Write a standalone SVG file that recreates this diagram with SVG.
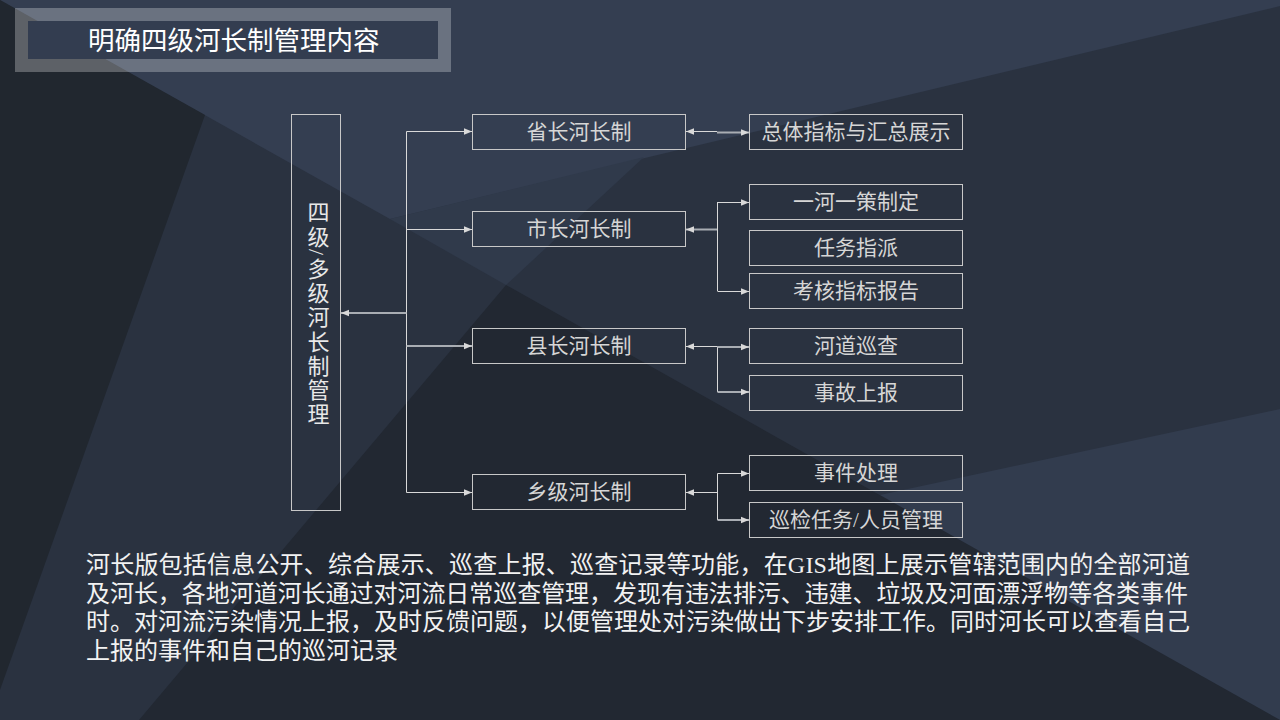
<svg xmlns="http://www.w3.org/2000/svg" width="1280" height="720" viewBox="0 0 1280 720">
  <defs>
    <marker id="ah" viewBox="0 0 10 10" refX="10" refY="5" markerWidth="8" markerHeight="8" markerUnits="userSpaceOnUse" orient="auto-start-reverse">
      <path d="M0,1 L10,5 L0,9 z" fill="#d9d9d9"/>
    </marker>
    <style>
      .box { fill: none; stroke: #c8c8c8; stroke-width: 1; }
      .lbl { font-family: "Liberation Serif", "Noto Sans CJK SC", serif; font-size: 21px; fill: #d6d6d6; text-anchor: middle; }
      .con { fill: none; stroke: #d9d9d9; stroke-width: 1; }
      .con2 { fill: none; stroke: #a9adb3; stroke-width: 2; }
      .para { font-family: "Liberation Serif", "Noto Sans CJK SC", serif; font-size: 24px; fill: #f2f2f2; }
    </style>
  </defs>

  <g id="background">
    <rect x="0" y="0" width="1280" height="720" fill="#2a3240"/>
    <polygon points="0,0 1280,0 1280,6 390,219" fill="#343e51"/>
    <polygon points="390,219 644,157 506,285" fill="#303a4b"/>
    <polygon points="880,495 1280,409 1280,720" fill="#323c4e"/>
    <polygon points="506,285 1280,720 139,720" fill="#222832"/>
    <polygon points="0,0 205,115 0,690" fill="#21272f"/>
  </g>

  <g id="title">
    <rect x="28" y="21" width="410" height="38" fill="#333d50"/>
    <rect x="21.5" y="14.5" width="423" height="51" fill="none" stroke="#ffffff" stroke-opacity="0.27" stroke-width="13"/>
    <text x="88" y="50" font-family="Liberation Serif, 'Noto Sans CJK SC', serif" font-size="26.5" fill="#ffffff">明确四级河长制管理内容</text>
  </g>

  <g id="connectors">
    <path class="con" d="M406.5,131.5 V492.5"/>
    <path class="con" d="M406.5,131.5 H472" marker-end="url(#ah)"/>
    <path class="con" d="M406.5,229.5 H472" marker-end="url(#ah)"/>
    <path class="con2" d="M406.5,346 H472" marker-end="url(#ah)"/>
    <path class="con" d="M406.5,492.5 H472" marker-end="url(#ah)"/>
    <path class="con2" d="M406.5,313 H341" marker-end="url(#ah)"/>

    <path class="con" d="M717,131.5 H686" marker-end="url(#ah)"/>
    <path class="con2" d="M717,132.5 H749" marker-end="url(#ah)"/>

    <path class="con2" d="M717.5,229.5 H686" marker-end="url(#ah)"/>
    <path class="con" d="M717.5,202 V291"/>
    <path class="con" d="M717.5,202.5 H749" marker-end="url(#ah)"/>
    <path class="con" d="M717.5,291.5 H749" marker-end="url(#ah)"/>

    <path class="con" d="M717.5,346.5 H686" marker-end="url(#ah)"/>
    <path class="con" d="M717.5,346.5 V392"/>
    <path class="con2" d="M717.5,347 H749" marker-end="url(#ah)"/>
    <path class="con2" d="M717.5,392 H749" marker-end="url(#ah)"/>

    <path class="con" d="M717.5,492.5 H686" marker-end="url(#ah)"/>
    <path class="con" d="M717.5,473.5 V520"/>
    <path class="con" d="M717.5,473.5 H749" marker-end="url(#ah)"/>
    <path class="con2" d="M717.5,520 H749" marker-end="url(#ah)"/>
  </g>

  <g id="main">
    <rect class="box" x="291.5" y="114.5" width="49" height="396"/>
    <text x="316" y="201" writing-mode="vertical-rl" style="text-orientation: mixed" font-family="Liberation Serif, 'Noto Sans CJK SC', serif" font-size="22" letter-spacing="2.2" fill="#e8e8e8">四级<tspan style="text-orientation: sideways">/</tspan>多级河长制管理</text>
  </g>

  <g id="province">
    <rect class="box" x="472.5" y="114.5" width="213" height="35"/>
    <text class="lbl" x="579" y="139">省长河长制</text>
  </g>
  <g id="city">
    <rect class="box" x="472.5" y="211.5" width="213" height="35"/>
    <text class="lbl" x="579" y="236">市长河长制</text>
  </g>
  <g id="county">
    <rect class="box" x="472.5" y="328.5" width="213" height="35"/>
    <text class="lbl" x="579" y="353">县长河长制</text>
  </g>
  <g id="township">
    <rect class="box" x="472.5" y="474.5" width="213" height="35"/>
    <text class="lbl" x="579" y="499">乡级河长制</text>
  </g>

  <g id="summary">
    <rect class="box" x="749.5" y="114.5" width="213" height="35"/>
    <text class="lbl" x="856" y="139">总体指标与汇总展示</text>
  </g>
  <g id="policy">
    <rect class="box" x="749.5" y="184.5" width="213" height="35"/>
    <text class="lbl" x="856" y="209">一河一策制定</text>
  </g>
  <g id="assign">
    <rect class="box" x="749.5" y="230.5" width="213" height="35"/>
    <text class="lbl" x="856" y="255">任务指派</text>
  </g>
  <g id="report">
    <rect class="box" x="749.5" y="273.5" width="213" height="35"/>
    <text class="lbl" x="856" y="298">考核指标报告</text>
  </g>
  <g id="patrol">
    <rect class="box" x="749.5" y="328.5" width="213" height="35"/>
    <text class="lbl" x="856" y="353">河道巡查</text>
  </g>
  <g id="accident">
    <rect class="box" x="749.5" y="375.5" width="213" height="35"/>
    <text class="lbl" x="856" y="400">事故上报</text>
  </g>
  <g id="event">
    <rect class="box" x="749.5" y="455.5" width="213" height="35"/>
    <text class="lbl" x="856" y="480">事件处理</text>
  </g>
  <g id="inspection">
    <rect class="box" x="749.5" y="502.5" width="213" height="35"/>
    <text class="lbl" x="856" y="527">巡检任务/人员管理</text>
  </g>

  <g id="description">
    <text class="para" x="86" y="573" textLength="1104" lengthAdjust="spacing">河长版包括信息公开、综合展示、巡查上报、巡查记录等功能，在GIS地图上展示管辖范围内的全部河道</text>
    <text class="para" x="86" y="602" textLength="1102" lengthAdjust="spacing">及河长，各地河道河长通过对河流日常巡查管理，发现有违法排污、违建、垃圾及河面漂浮物等各类事件</text>
    <text class="para" x="86" y="630" textLength="1104" lengthAdjust="spacing">时。对河流污染情况上报，及时反馈问题，以便管理处对污染做出下步安排工作。同时河长可以查看自己</text>
    <text class="para" x="86" y="659">上报的事件和自己的巡河记录</text>
  </g>
</svg>
